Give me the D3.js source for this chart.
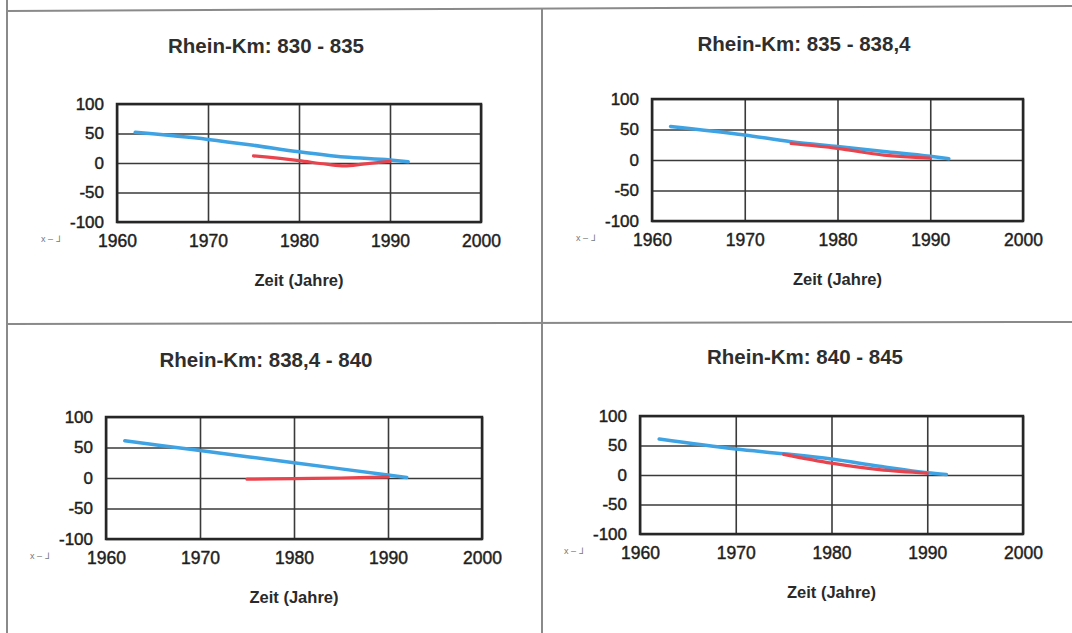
<!DOCTYPE html>
<html>
<head>
<meta charset="utf-8">
<script src="https://cdn.jsdelivr.net/npm/d3@7"></script>
<style>
  html, body { margin: 0; padding: 0; background: #fff; }
  svg { display: block; }
  text { font-family: "Liberation Sans", Arial, sans-serif; }
</style>
</head>
<body>
<svg id="chart" width="1072" height="633"></svg>
<script>
// Panel titles (river kilometre sections)
const titles = [
  "Rhein-Km: 830 - 835",
  "Rhein-Km: 835 - 838,4",
  "Rhein-Km: 838,4 - 840",
  "Rhein-Km: 840 - 845"
];

// Axis ticks
const xTicks = [1960, 1970, 1980, 1990, 2000];
const yTicks = [-100, -50, 0, 50, 100];
const xAxisTitle = "Zeit (Jahre)";

// Blue series (long-term trend), per panel
const blueYears = [
  [1962, 1970, 1975, 1980, 1985, 1990, 1992],
  [1962, 1970, 1975, 1980, 1985, 1990, 1992],
  [1962, 1970, 1980, 1990, 1992],
  [1962, 1970, 1975, 1980, 1985, 1990, 1992]
];
const blueValues = [
  [52, 40, 30, 19, 10, 5, 2],
  [55, 41, 30, 22, 14, 6, 2],
  [61, 45, 25, 5, 1],
  [61, 44, 36, 27, 15, 4, 1]
];

// Red series (measured since 1975), per panel
const redYears = [
  [1975, 1980, 1983, 1985, 1987, 1990],
  [1975, 1980, 1985, 1990],
  [1975, 1980, 1985, 1990],
  [1975, 1980, 1985, 1990]
];
const redValues = [
  [12, 4, -2, -5, -2, 3],
  [27, 19, 8, 3],
  [-2, -1, 0, 2],
  [35, 20, 9, 3]
];

// ---- layout of the four sub-charts ----
const frames = [
  { x0: 117, x1: 481,  y0: 104, y1: 222, tx: 266, ty: 45 },
  { x0: 652, x1: 1023, y0: 99,  y1: 221, tx: 804, ty: 43 },
  { x0: 106, x1: 482,  y0: 417, y1: 539, tx: 266, ty: 359 },
  { x0: 640, x1: 1023, y0: 416, y1: 534, tx: 805, ty: 356 }
];

const svg = d3.select("#chart");

// Page frame and dividers between the four cells
const border = svg.append("g")
  .attr("stroke", "#8a8a8a").attr("stroke-width", 2).attr("fill", "none");
border.append("line").attr("x1", 7).attr("y1", 0).attr("x2", 7).attr("y2", 633);
border.append("line").attr("x1", 7).attr("y1", 11).attr("x2", 1072).attr("y2", 6);
border.append("line").attr("x1", 542).attr("y1", 8).attr("x2", 542).attr("y2", 633);
border.append("line").attr("x1", 7).attr("y1", 324).attr("x2", 1072).attr("y2", 322);

const line = (x, y) => d3.line().x(d => x(d[0])).y(d => y(d[1])).curve(d3.curveMonotoneX);

// Tick labels are printed with a plain hyphen for negative numbers
const plain = d => String(d);

frames.forEach((f, i) => {
  const x = d3.scaleLinear().domain([1960, 2000]).range([f.x0, f.x1]);
  const y = d3.scaleLinear().domain([-100, 100]).range([f.y1, f.y0]);
  const w = f.x1 - f.x0, h = f.y1 - f.y0;
  const g = svg.append("g");

  // Title
  g.append("text")
    .attr("x", f.tx).attr("y", f.ty)
    .attr("text-anchor", "middle").attr("dominant-baseline", "central")
    .attr("font-size", 20.5).attr("font-weight", "bold").attr("fill", "#2e2e2e")
    .text(titles[i]);

  // X axis with vertical grid lines
  const gx = g.append("g")
    .attr("transform", `translate(0,${f.y1})`)
    .call(d3.axisBottom(x).tickValues(xTicks).tickFormat(plain)
      .tickSizeInner(-h).tickSizeOuter(0).tickPadding(13));
  gx.select(".domain").remove();
  gx.selectAll("line").attr("stroke", "#3a3a3a").attr("stroke-width", 1.6);
  gx.selectAll("text").attr("font-size", 17.5).attr("fill", "#1e1e1e")
    .attr("stroke", "#1e1e1e").attr("stroke-width", 0.45);

  // Y axis with horizontal grid lines
  const gy = g.append("g")
    .attr("transform", `translate(${f.x0},0)`)
    .call(d3.axisLeft(y).tickValues(yTicks).tickFormat(plain)
      .tickSizeInner(-w).tickSizeOuter(0).tickPadding(13));
  gy.select(".domain").remove();
  gy.selectAll("line").attr("stroke", "#3a3a3a").attr("stroke-width", 1.6);
  gy.selectAll("text").attr("font-size", 17).attr("fill", "#1e1e1e")
    .attr("stroke", "#1e1e1e").attr("stroke-width", 0.45);

  // Plot frame
  g.append("rect")
    .attr("x", f.x0).attr("y", f.y0).attr("width", w).attr("height", h)
    .attr("fill", "none").attr("stroke", "#262626").attr("stroke-width", 2.5);

  // Small key mark under the y axis
  g.append("text")
    .attr("x", f.x0 - 76).attr("y", f.y1 + 20)
    .attr("font-size", 9).attr("fill", "#777")
    .text("x – ⅃");

  // Axis title
  g.append("text")
    .attr("x", (f.x0 + f.x1) / 2).attr("y", f.y1 + 58)
    .attr("text-anchor", "middle").attr("dominant-baseline", "central")
    .attr("font-size", 16.5).attr("font-weight", "bold").attr("fill", "#2a2a2a")
    .text(xAxisTitle);

  // Series
  const blue = d3.zip(blueYears[i], blueValues[i]);
  const red = d3.zip(redYears[i], redValues[i]);
  g.append("path").datum(blue)
    .attr("d", line(x, y)).attr("fill", "none")
    .attr("stroke", "#3fa3e3").attr("stroke-width", 3.5).attr("stroke-linecap", "round");
  g.append("path").datum(red)
    .attr("d", line(x, y)).attr("fill", "none")
    .attr("stroke", "#e8444e").attr("stroke-width", 3.2).attr("stroke-linecap", "round");
});
</script>
</body>
</html>
